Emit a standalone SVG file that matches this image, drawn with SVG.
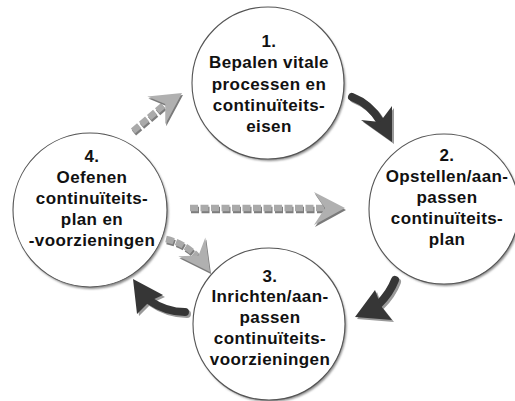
<svg xmlns="http://www.w3.org/2000/svg" width="515" height="401" viewBox="0 0 515 401">
<style>
.node-shadow{fill:#8a8a8a;filter:url(#blur)}
.node-circle{fill:#fff;stroke:#555;stroke-width:1.1}
.label{font-family:"Liberation Sans",Arial,sans-serif;font-weight:bold;font-size:17px;fill:#111;text-anchor:middle;letter-spacing:0.4px}
.dots{fill:none;stroke:#aaa;stroke-width:6.5;stroke-dasharray:8 2.5}
.dots-sh{fill:none;stroke:#7d7d7d;stroke-width:6.5;stroke-dasharray:8 2.5}
.ghead{fill:#b0b0b0}
.ghead-sh{fill:#7a7a7a}
.dshaft{fill:none;stroke:#363636;stroke-width:8;stroke-linecap:round}
.dshaft-sh{fill:none;stroke:#9a9a9a;stroke-width:8;stroke-linecap:round}
.dhead{fill:#363636}
.dhead-sh{fill:#9a9a9a}
</style>
<defs>
<filter id="blur" x="-10%" y="-10%" width="120%" height="120%"><feGaussianBlur stdDeviation="0.9"/></filter>
<path id="gh" d="M0,0 L-31,-16 L-20,0 L-31,17 Z"/>
</defs>

<g id="connectors">
  <g id="c-4-1">
    <path class="dots-sh" d="M134,133 L166,106"/>
    <path class="dots" d="M133,131 L165,104"/>
    <use href="#gh" class="ghead-sh" transform="translate(183,95) rotate(-33)"/>
    <use href="#gh" class="ghead" transform="translate(182,93) rotate(-33)"/>
  </g>
  <g id="c-4-2">
    <path class="dots-sh" d="M191,210 L326,210"/>
    <path class="dots" d="M190,208 L325,208"/>
    <use href="#gh" class="ghead-sh" transform="translate(346,210)"/>
    <use href="#gh" class="ghead" transform="translate(345,208)"/>
  </g>
  <g id="c-4-3">
    <path class="dots-sh" d="M167,241 Q185,245 198,258"/>
    <path class="dots" d="M166,239 Q184,243 197,256"/>
    <use href="#gh" class="ghead-sh" transform="translate(211,274) rotate(55)"/>
    <use href="#gh" class="ghead" transform="translate(210,272) rotate(55)"/>
  </g>
  <g id="c-1-2">
    <path class="dshaft-sh" d="M354,99 Q372,106 382,123"/>
    <path class="dhead-sh" d="M394,144 L363,122 L382,124 L394,108 Z"/>
    <path class="dshaft" d="M352,97 Q370,104 380,121"/>
    <path class="dhead" d="M392,142 L361,120 L380,122 L392,106 Z"/>
  </g>
  <g id="c-2-3">
    <path class="dshaft-sh" d="M397,282 Q392,295 381,306"/>
    <path class="dhead-sh" d="M357,319 L377,292 L383,308 L394,322 Z"/>
    <path class="dshaft" d="M395,280 Q390,293 379,304"/>
    <path class="dhead" d="M355,317 L375,290 L381,306 L392,320 Z"/>
  </g>
  <g id="c-3-4">
    <path class="dshaft-sh" d="M152,303 Q168,314 187,314"/>
    <path class="dhead-sh" d="M135,281 L165,297 L152,303 L139,316 Z"/>
    <path class="dshaft" d="M150,301 Q166,312 185,312"/>
    <path class="dhead" d="M133,279 L163,295 L150,301 L137,314 Z"/>
  </g>
</g>

<g id="node1">
  <circle class="node-shadow" cx="269.5" cy="85" r="76"/>
  <circle class="node-circle" cx="268" cy="83" r="76"/>
  <text class="label" x="269" y="47">1.</text>
  <text class="label" x="269" y="68">Bepalen vitale</text>
  <text class="label" x="269" y="90">processen en</text>
  <text class="label" x="269" y="111">continuïteits-</text>
  <text class="label" x="269" y="132">eisen</text>
</g>

<g id="node2">
  <circle class="node-shadow" cx="445.5" cy="211" r="75"/>
  <circle class="node-circle" cx="444" cy="209" r="75"/>
  <text class="label" x="447" y="161">2.</text>
  <text class="label" x="447" y="182">Opstellen/aan-</text>
  <text class="label" x="447" y="203">passen</text>
  <text class="label" x="447" y="224">continuïteits-</text>
  <text class="label" x="447" y="245">plan</text>
</g>

<g id="node3">
  <circle class="node-shadow" cx="270.5" cy="326" r="76"/>
  <circle class="node-circle" cx="269" cy="324" r="76"/>
  <text class="label" x="270" y="282">3.</text>
  <text class="label" x="270" y="302">Inrichten/aan-</text>
  <text class="label" x="270" y="323">passen</text>
  <text class="label" x="270" y="344">continuïteits-</text>
  <text class="label" x="270" y="365">voorzieningen</text>
</g>

<g id="node4">
  <circle class="node-shadow" cx="91.5" cy="212" r="77"/>
  <circle class="node-circle" cx="90" cy="210" r="77"/>
  <text class="label" x="92" y="162">4.</text>
  <text class="label" x="92" y="183">Oefenen</text>
  <text class="label" x="92" y="204">continuïteits-</text>
  <text class="label" x="92" y="225">plan en</text>
  <text class="label" x="92" y="246">-voorzieningen</text>
</g>
</svg>
